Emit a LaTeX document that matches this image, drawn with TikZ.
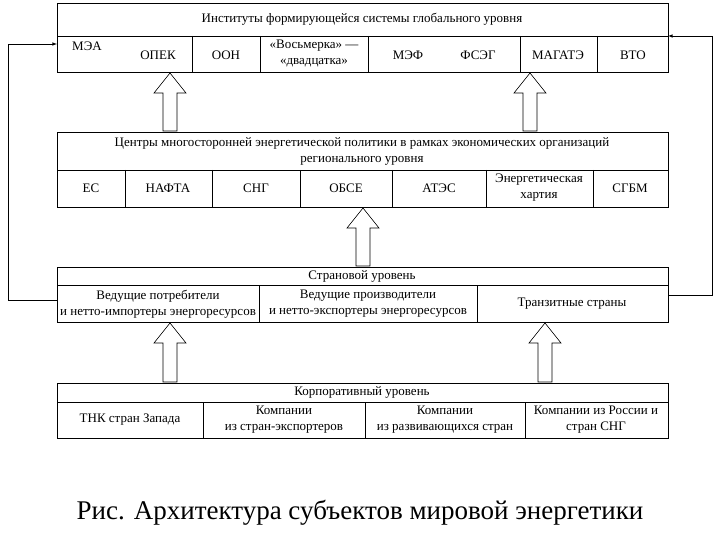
\documentclass[tikz,border=0pt]{standalone}
\usepackage{fontspec}
\setmainfont{Liberation Serif}
\begin{document}
\begin{tikzpicture}[x=1pt,y=-1pt,
 box/.style={draw,line width=0.8pt},
 t/.style={font=\fontsize{13}{16}\selectfont,align=center,inner sep=0pt},
 fb/.style={draw,line width=0.6pt,-latex},
 hollow/.style={draw,line width=0.6pt,fill=white}]
\useasboundingbox (0,0) rectangle (720,540);
\newcommand{\hup}[3]{% x, ytop, ybottom
 \draw[hollow] (#1-7,#3) -- (#1-7,#2+20) -- (#1-16,#2+20) -- (#1,#2) -- (#1+16,#2+20) -- (#1+7,#2+20) -- (#1+7,#3) -- cycle;}
% top box
\draw[box] (57,3) rectangle (668,72);
\draw[box] (57,36) -- (668,36);
\foreach \x in {192,260,368,520,597} \draw[box] (\x,36) -- (\x,72);
\node[t] (h1) at (362,19) {Институты формирующейся системы глобального уровня};
\node[t] (a1) at (87,46) {МЭА};
\node[t] (a2) at (158,55) {ОПЕК};
\node[t] (a3) at (226,55) {ООН};
\node[t] (a4) at (314,54) {«Восьмерка» —\\«двадцатка»};
\node[t] (a5) at (408,55) {МЭФ};
\node[t] (a6) at (478,55) {ФСЭГ};
\node[t] (a7) at (558,55) {МАГАТЭ};
\node[t] (a8) at (633,55) {ВТО};
% middle box
\draw[box] (57,132) rectangle (668,207);
\draw[box] (57,170) -- (668,170);
\foreach \x in {125,212,300,392,486,593} \draw[box] (\x,170) -- (\x,207);
\node[t] (h2) at (362,151) {Центры многосторонней энергетической политики в рамках экономических организаций\\регионального уровня};
\node[t] (b1) at (91,188) {ЕС};
\node[t] (b2) at (168,188) {НАФТА};
\node[t] (b3) at (256,188) {СНГ};
\node[t] (b4) at (346,188) {ОБСЕ};
\node[t] (b5) at (439,188) {АТЭС};
\node[t] (b6) at (539,188) {Энергетическая\\хартия};
\node[t] (b7) at (630,188) {СГБМ};
% country box
\draw[box] (57,267) rectangle (668,322);
\draw[box] (57,285) -- (668,285);
\foreach \x in {259,477} \draw[box] (\x,285) -- (\x,322);
\node[t] (h3) at (362,276) {Страновой уровень};
\node[t] (c1) at (158,304) {Ведущие потребители\\и нетто-импортеры энергоресурсов};
\node[t] (c2) at (368,304) {Ведущие производители\\и нетто-экспортеры энергоресурсов};
\node[t] (c3) at (572,304) {Транзитные страны};
% corporate box
\draw[box] (57,383) rectangle (668,438);
\draw[box] (57,402) -- (668,402);
\foreach \x in {203,365,525} \draw[box] (\x,402) -- (\x,438);
\node[t] (h4) at (362,392) {Корпоративный уровень};
\node[t] (d1) at (130,420) {ТНК стран Запада};
\node[t] (d2) at (284,420) {Компании\\из стран-экспортеров};
\node[t] (d3) at (445,420) {Компании\\из развивающихся стран};
\node[t] (d4) at (596,420) {Компании из России и\\стран СНГ};
% hollow arrows
\hup{170}{73}{131}
\hup{530}{73}{131}
\hup{363}{208}{266}
\hup{170}{323}{382}
\hup{545}{323}{382}
% feedback lines
\coordinate (l1) at (8,300); \coordinate (l2) at (8,44);
\coordinate (r1) at (712,295); \coordinate (r2) at (712,36);
\draw[fb] (57,300) -- (l1) -- (l2) -- (57,44);
\draw[fb] (668,295) -- (r1) -- (r2) -- (668,36);
\node[font=\fontsize{27}{29}\selectfont,inner sep=0pt] (cap) at (360,513) {Рис. Архитектура субъектов мировой энергетики};
\end{tikzpicture}
\end{document}
